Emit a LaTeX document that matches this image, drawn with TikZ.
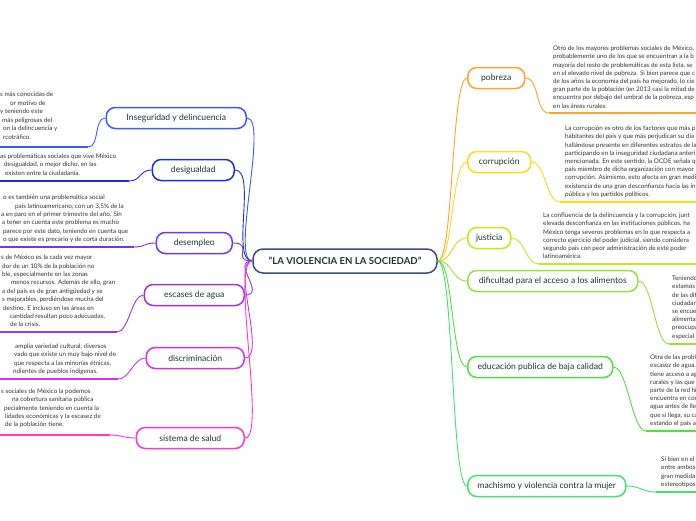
\documentclass[tikz,border=0pt]{standalone}
\usepackage{fontspec}
\setmainfont{Lato}
\definecolor{cIns}{HTML}{3A5BFF}
\definecolor{cDes}{HTML}{1F2FD6}
\definecolor{cEmp}{HTML}{6A3BEA}
\definecolor{cAgu}{HTML}{9B35E6}
\definecolor{cDis}{HTML}{D033E0}
\definecolor{cSal}{HTML}{FF35CC}
\definecolor{cPob}{HTML}{FFA22E}
\definecolor{cCor}{HTML}{FFD91A}
\definecolor{cJus}{HTML}{C9E61C}
\definecolor{cAli}{HTML}{98E040}
\definecolor{cEdu}{HTML}{55DD44}
\definecolor{cMac}{HTML}{44E070}
\definecolor{labelc}{HTML}{1E3535}
\definecolor{bodyc}{HTML}{333333}
\definecolor{centerc}{HTML}{3B4F7C}
\newcommand\tline[4]{\node[small] (#1) at (#2,#3) {#4};}
\begin{document}
\begin{tikzpicture}[x=1pt,y=-1pt,
  small/.style={font=\fontsize{6.3}{7}\selectfont, inner sep=0pt, anchor=base west, text=bodyc},
  topic/.style={draw=#1, line width=1.5pt, rounded corners=9pt, fill=white, minimum height=21pt, inner sep=0pt, font=\fontsize{8.6}{10}\selectfont, text=labelc},
  conn/.style={draw=#1, line width=0.9pt},
  uline/.style={draw=#1, line width=2.2pt},
  hub/.style={draw=centerc, line width=1.5pt, rounded corners=10pt, fill=white, minimum height=24pt, minimum width=184pt, inner sep=0pt, font=\fontsize{9.6}{11}\selectfont\bfseries, text=labelc}
]
\useasboundingbox (0,0) rectangle (696,520);
\fill[white] (0,0) rectangle (696,520);
\clip (0,0) rectangle (696,520);

% central node
\node[hub] (c) at (345,261) {"LA VIOLENCIA EN LA SOCIEDAD"};

% ---------- right topics ----------
\node[topic=cPob, anchor=west, minimum width=57pt] (pob) at (467,78) {pobreza};
\node[topic=cCor, anchor=west, minimum width=63pt] (cor) at (467,162) {corrupción};
\node[topic=cJus, anchor=west, minimum width=43pt] (jus) at (467,238) {justicia};
\node[topic=cAli, anchor=west, minimum width=170pt] (ali) at (467,281) {dificultad para el acceso a los alimentos};
\node[topic=cEdu, anchor=west, minimum width=145pt] (edu) at (467,367) {educación publica de baja calidad};
\node[topic=cMac, anchor=west, minimum width=158pt] (mac) at (467,486) {machismo y violencia contra la mujer};

% ---------- left topics ----------
\node[topic=cIns, anchor=east, minimum width=140pt] (ins) at (247,118) {Inseguridad y delincuencia};
\node[topic=cDes, anchor=east, minimum width=82pt] (des) at (235,170) {desigualdad};
\node[topic=cEmp, anchor=east, minimum width=76pt] (emp) at (233,243) {desempleo};
\node[topic=cAgu, anchor=east, minimum width=100pt] (agu) at (245,295) {escases de agua};
\node[topic=cDis, anchor=east, minimum width=98pt] (dis) at (245,358) {discriminación};
\node[topic=cSal, anchor=east, minimum width=108pt] (sal) at (245,438) {sistema de salud};

% ---------- connectors from hub ----------
\foreach \t/\cl in {pob/cPob, cor/cCor, jus/cJus, ali/cAli, edu/cEdu, mac/cMac}
  \draw[conn=\cl] (c.east) .. controls +(16,0) and +(-16,0) .. (\t.west);
\foreach \t/\cl in {ins/cIns, des/cDes, emp/cEmp, agu/cAgu, dis/cDis, sal/cSal}
  \draw[conn=\cl] (c.west) .. controls +(-22,0) and +(22,0) .. (\t.east);

% ---------- right text blocks ----------
\tline{tp1}{553}{50.6}{Otro de los mayores problemas sociales de México,}
\tline{tp2}{553}{58.8}{probablemente uno de los que se encuentran a la b}
\tline{tp3}{553}{67.0}{mayoría del resto de problemáticas de esta lista, se}
\tline{tp4}{553}{75.2}{en el elevado nivel de pobreza. Si bien parece que c}
\tline{tp5}{553}{83.4}{de los años la economía del país ha mejorado, lo cie}
\tline{tp6}{553}{91.6}{gran parte de la población (en 2013 casi la mitad de}
\tline{tp7}{553}{99.8}{encuentra por debajo del umbral de la pobreza, esp}
\tline{tp8}{553}{108.0}{en las áreas rurales.}
\coordinate (tp-ul) at (549,113);

\tline{tc1}{565}{130.6}{La corrupción es otro de los factores que más p}
\tline{tc2}{565}{138.8}{habitantes del país y que más perjudican su día}
\tline{tc3}{565}{147.0}{hallándose presente en diferentes estratos de la}
\tline{tc4}{565}{155.2}{participando en la inseguridad ciudadana anteri}
\tline{tc5}{565}{163.4}{mencionada. En este sentido, la OCDE señala qu}
\tline{tc6}{565}{171.6}{país miembro de dicha organización con mayor}
\tline{tc7}{565}{179.8}{corrupción. Asimismo, esto afecta en gran medi}
\tline{tc8}{565}{188.0}{existencia de una gran desconfianza hacia las in}
\tline{tc9}{565}{196.2}{pública y los partidos políticos.}
\coordinate (tc-ul) at (560,202);

\tline{tj1}{543}{217.6}{La confluencia de la delincuencia y la corrupción, junt}
\tline{tj2}{543}{225.8}{elevada desconfianza en las instituciones públicos, ha}
\tline{tj3}{543}{234.0}{México tenga severos problemas en lo que respecta a}
\tline{tj4}{543}{242.2}{correcto ejercicio del poder judicial, siendo considera}
\tline{tj5}{543}{250.4}{segundo país con peor administración de este poder}
\tline{tj6}{543}{258.6}{latinoamérica.}
\coordinate (tj-ul) at (539,264);

\tline{ta1}{672}{280.6}{Teniendo}
\tline{ta2}{672}{288.8}{estamos}
\tline{ta3}{672}{297.0}{de las dif}
\tline{ta4}{672}{305.2}{ciudadan}
\tline{ta5}{672}{313.4}{se encuen}
\tline{ta6}{672}{321.6}{alimenta}
\tline{ta7}{672}{329.8}{preocupa}
\tline{ta8}{672}{338.0}{especial}
\coordinate (ta-ul) at (669,344);

\tline{te1}{650}{359.6}{Otra de las proble}
\tline{te2}{650}{367.8}{escasez de agua.}
\tline{te3}{650}{376.0}{tiene acceso a ag}
\tline{te4}{650}{384.2}{rurales y las que}
\tline{te5}{650}{392.4}{parte de la red hi}
\tline{te6}{650}{400.6}{encuentra en con}
\tline{te7}{650}{408.8}{agua antes de lle}
\tline{te8}{650}{417.0}{que sí llega, su ca}
\tline{te9}{650}{425.2}{estando el país a}
\coordinate (te-ul) at (646,431);

\tline{tm1}{661}{461.6}{Si bien en el}
\tline{tm2}{661}{469.8}{entre ambos}
\tline{tm3}{661}{478.0}{gran medida}
\tline{tm4}{661}{486.2}{estereotipos}
\coordinate (tm-ul) at (656,492);

% ---------- left text blocks ----------
\tline{ti1}{0}{96.6}{s más conocidas de}
\tline{ti2}{10}{105.1}{or motivo de}
\tline{ti3}{0}{113.6}{y teniendo este}
\tline{ti4}{2}{122.1}{más peligrosas del}
\tline{ti5}{3}{130.6}{on la delincuencia y}
\tline{ti6}{3}{139.1}{rcotráfico.}
\coordinate (ti-ul) at (88,147);

\tline{td1}{0}{158.6}{as problemáticas sociales que vive México}
\tline{td2}{4}{166.8}{desigualdad, o mejor dicho, en las}
\tline{td3}{5}{175.0}{existen entre la ciudadanía.}
\coordinate (td-ul) at (129,181);

\tline{tw1}{3}{199.6}{o es también una problemática social}
\tline{tw2}{15}{208.0}{país latinoamericano, con un 3,5\% de la}
\tline{tw3}{1}{216.4}{a en paro en el primer trimestre del año. Sin}
\tline{tw4}{2}{224.8}{a tener en cuenta este problema es mucho}
\tline{tw5}{3}{233.2}{parece por este dato, teniendo en cuenta que}
\tline{tw6}{3}{241.6}{o que existe es precario y de corta duración.}
\coordinate (tw-ul) at (134,247);

\tline{tg1}{1}{259.6}{s de México es la cada vez mayor}
\tline{tg2}{2}{268.0}{dor de un 10\% de la población no}
\tline{tg3}{2}{276.4}{ble, especialmente en las zonas}
\tline{tg4}{11}{284.8}{menos recursos. Además de ello, gran}
\tline{tg5}{2}{293.2}{a del país es de gran antigüedad y se}
\tline{tg6}{2}{301.6}{s mejorables, perdiéndose mucha del}
\tline{tg7}{3}{310.0}{destino. E incluso en las áreas en}
\tline{tg8}{10}{318.4}{cantidad resultan poco adecuadas,}
\tline{tg9}{10}{326.8}{de la crisis.}
\coordinate (tg-ul) at (117,332);

\tline{tx1}{15}{348.6}{amplia variedad cultural, diversos}
\tline{tx2}{14}{356.9}{vado que existe un muy bajo nivel de}
\tline{tx3}{14}{365.2}{que respecta a las minorías étnicas,}
\tline{tx4}{13}{373.5}{ndientes de pueblos indígenas.}
\coordinate (tx-ul) at (118,379);

\tline{ts1}{1}{393.6}{s sociales de México la podemos}
\tline{ts2}{12}{401.9}{na cobertura sanitaria pública}
\tline{ts3}{4}{410.2}{pecialmente teniendo en cuenta la}
\tline{ts4}{5}{418.5}{lidades económicas y la escasez de}
\tline{ts5}{5}{426.8}{de la población tiene.}
\coordinate (ts-ul) at (110,435);

% ---------- underlines with their connectors ----------
\coordinate (rEnd) at (700,0);
\foreach \t/\b/\cl in {tp/pob/cPob, tc/cor/cCor, tj/jus/cJus, ta/ali/cAli, te/edu/cEdu, tm/mac/cMac} {
  \draw[conn=\cl] (\b.east) .. controls +(14,0) and +(-14,0) .. (\t-ul);
  \draw[uline=\cl] (\t-ul) -- (rEnd |- \t-ul);
}
\coordinate (lEnd) at (-4,0);
\foreach \t/\b/\cl in {ti/ins/cIns, td/des/cDes, tw/emp/cEmp, tg/agu/cAgu, tx/dis/cDis, ts/sal/cSal} {
  \draw[conn=\cl] (\b.west) .. controls +(-12,0) and +(12,0) .. (\t-ul);
  \draw[uline=\cl] (\t-ul) -- (lEnd |- \t-ul);
}
\end{tikzpicture}
\end{document}
